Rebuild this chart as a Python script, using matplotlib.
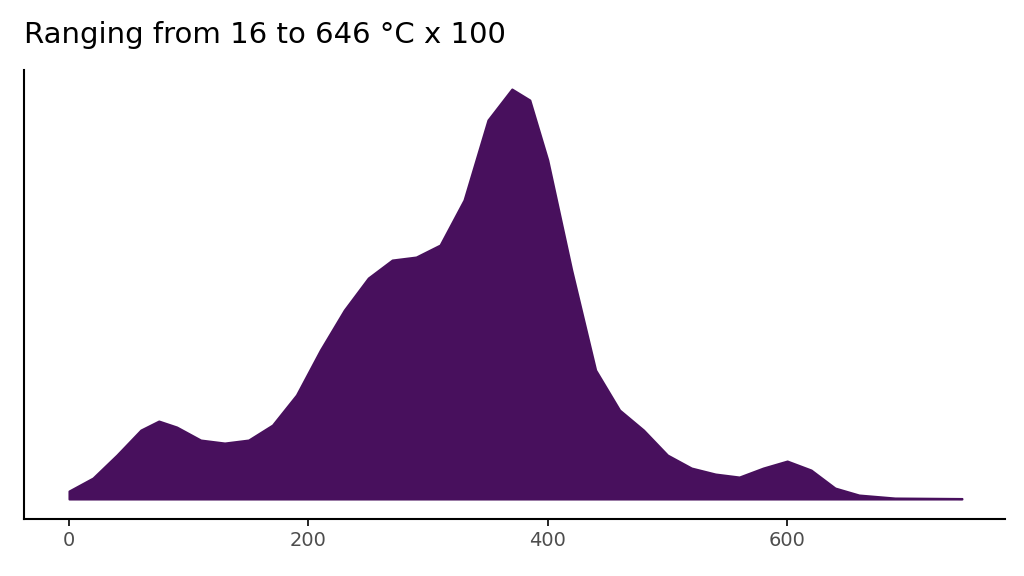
import matplotlib
matplotlib.use("Agg")
import matplotlib.pyplot as plt

x = [0,20,40,60,75,90,110,130,150,170,190,210,230,250,270,290,310,330,350,370,385,400,420,440,460,480,500,520,540,560,580,600,620,640,660,690,746]
d = [8,21,44,69,78,72,59,56,59,74,104,149,189,221,239,242,254,299,379,410,399,339,229,129,89,69,44,31,25,22,31,38,29,11,4,1,0.5]
xticks = [0,200,400,600]
title = "Ranging from 16 to 646 °C x 100"

fig = plt.figure(figsize=(10.24,5.76), dpi=100)
ax = fig.add_axes([24/1024, 1-519/576, (1005-24)/1024, (519-70)/576])
ax.fill_between(x, 0, d, color="#48105d", lw=1.5, edgecolor="#48105d")
ax.set_xlim(-37.6, 782)
ax.set_ylim(-20, 429)
ax.set_yticks([])
ax.set_xticks(xticks)
ax.tick_params(axis='x', labelsize=14, labelcolor="#4d4d4d", length=5, width=1.2)
for s in ["top","right"]:
    ax.spines[s].set_visible(False)
for s in ["left","bottom"]:
    ax.spines[s].set_linewidth(1.5)
fig.text(24/1024, 1-35/576, title, fontsize=21, va="center", ha="left")
fig.savefig("out.png")
